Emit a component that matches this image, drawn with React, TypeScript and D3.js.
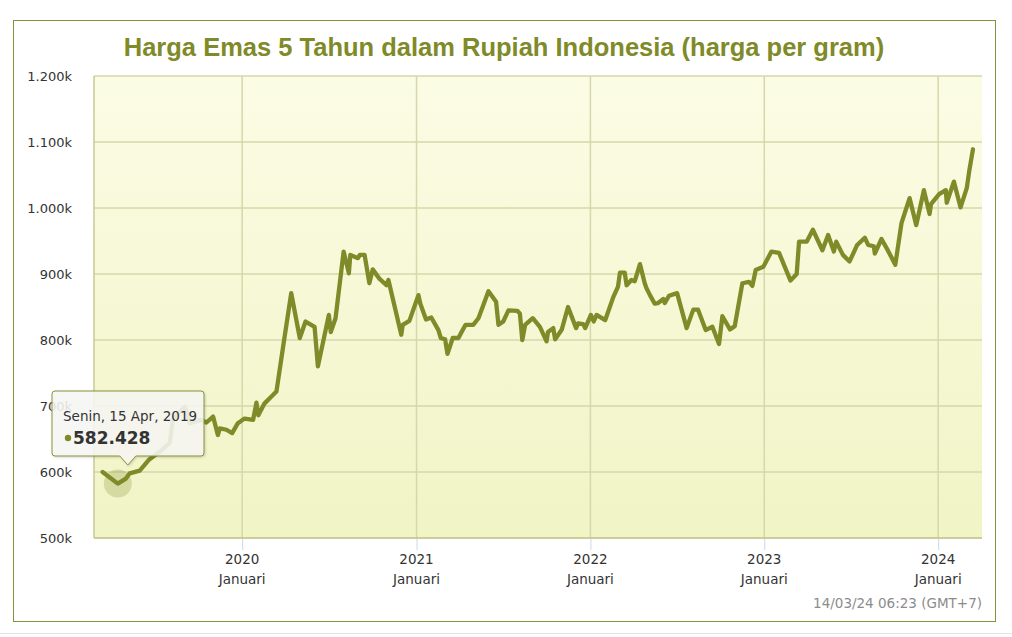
import * as d3 from 'd3'
import React, { useEffect, useRef } from 'react'

// gold price, thousand rupiah per gram
const dates = [
  '2019-03-14', '2019-04-15', '2019-05-02', '2019-05-10', '2019-05-31', '2019-06-20', '2019-07-16', '2019-08-02',
  '2019-08-09', '2019-09-03', '2019-09-13', '2019-10-07', '2019-10-18', '2019-11-01', '2019-11-11', '2019-11-15',
  '2019-11-29', '2019-12-11', '2019-12-23', '2020-01-06', '2020-01-24', '2020-01-31', '2020-02-04', '2020-02-17',
  '2020-03-02', '2020-03-13', '2020-03-27', '2020-04-13', '2020-05-01', '2020-05-13', '2020-06-01', '2020-06-08',
  '2020-07-01', '2020-07-05', '2020-07-15', '2020-08-01', '2020-08-12', '2020-08-15', '2020-08-31', '2020-09-04',
  '2020-09-14', '2020-09-24', '2020-10-01', '2020-10-15', '2020-10-30', '2020-11-03', '2020-11-30', '2020-12-03',
  '2020-12-17', '2021-01-05', '2021-01-09', '2021-01-21', '2021-02-01', '2021-02-16', '2021-02-21', '2021-03-02',
  '2021-03-07', '2021-03-18', '2021-03-30', '2021-04-04', '2021-04-14', '2021-04-30', '2021-05-11', '2021-06-01',
  '2021-06-17', '2021-06-22', '2021-07-02', '2021-07-13', '2021-08-01', '2021-08-06', '2021-08-11', '2021-08-17',
  '2021-09-02', '2021-09-17', '2021-10-01', '2021-10-04', '2021-10-15', '2021-10-19', '2021-11-02', '2021-11-15',
  '2021-12-02', '2021-12-06', '2021-12-17', '2021-12-21', '2022-01-02', '2022-01-08', '2022-01-14', '2022-02-01',
  '2022-02-18', '2022-02-28', '2022-03-04', '2022-03-14', '2022-03-18', '2022-03-28', '2022-04-04', '2022-04-15',
  '2022-04-25', '2022-04-29', '2022-05-06', '2022-05-16', '2022-05-23', '2022-06-03', '2022-06-06', '2022-06-15',
  '2022-07-02', '2022-07-22', '2022-08-05', '2022-08-15', '2022-08-31', '2022-09-14', '2022-09-28', '2022-10-05',
  '2022-10-21', '2022-10-31', '2022-11-16', '2022-11-30', '2022-12-07', '2022-12-14', '2022-12-30', '2023-01-16',
  '2023-02-01', '2023-02-25', '2023-03-10', '2023-03-15', '2023-03-31', '2023-04-13', '2023-05-03', '2023-05-15',
  '2023-05-27', '2023-06-01', '2023-06-15', '2023-06-29', '2023-07-15', '2023-07-31', '2023-08-07', '2023-08-19',
  '2023-08-21', '2023-09-04', '2023-09-18', '2023-10-03', '2023-10-16', '2023-11-02', '2023-11-16', '2023-12-02',
  '2023-12-14', '2023-12-17', '2024-01-03', '2024-01-17', '2024-01-19', '2024-02-03', '2024-02-17', '2024-03-01',
  '2024-03-06', '2024-03-14',
]
const prices = [
  600, 582.4, 590, 598, 602, 619, 633, 644,
  681, 699, 674, 679, 675, 684, 656, 666,
  664, 659, 674, 681, 679, 705, 686, 704,
  714, 722, 790, 871, 803, 828, 820, 760,
  838, 812, 833, 934, 901, 929, 924, 929,
  929, 886, 907, 893, 883, 891, 808, 823,
  829, 868, 855, 831, 834, 815, 803, 801,
  779, 803, 803, 810, 823, 823, 833, 874,
  858, 823, 828, 845, 844, 840, 800, 823,
  833, 820, 798, 812, 818, 801, 816, 850,
  818, 825, 824, 818, 838, 828, 838, 830,
  865, 881, 902, 902, 883, 891, 889, 915,
  886, 878, 868, 855, 856, 862, 856, 867,
  871, 818, 846, 846, 815, 820, 794, 836,
  816, 821, 886, 888, 882, 906, 911, 934,
  932, 890, 900, 949, 949, 967, 936, 959,
  934, 949, 929, 919, 944, 955, 944, 942,
  931, 953, 935, 914, 977, 1015, 974, 1027,
  991, 1006, 1021, 1027, 1008, 1040, 1001, 1030,
  1055, 1089,
]
const yTicks = [500, 600, 700, 800, 900, 1000, 1100, 1200]
const xTicks = ['2020-01-01', '2021-01-01', '2022-01-01', '2023-01-01', '2024-01-01']
const monthLabel = 'Januari'
const title = 'Harga Emas 5 Tahun dalam Rupiah Indonesia (harga per gram)'
const stamp = '14/03/24 06:23 (GMT+7)'
const tipDate = '2019-04-15'
const tipValue = 582.428
const tipLabel = 'Senin, 15 Apr, 2019'

const W = 1012
const H = 637
const olive = '#7f8a28'
const font = '"DejaVu Sans", Verdana, sans-serif'

const App: React.FC = () => {
  const ref = useRef<SVGSVGElement>(null)

  useEffect(() => {
    if (!ref.current) return
    const svg = d3.select(ref.current)
    svg.selectAll('*').remove()

    const plot = { left: 94, top: 76, right: 982, bottom: 538 }
    const parse = d3.timeParse('%Y-%m-%d')
    const x = d3.scaleTime()
      .domain([new Date(2019, 1, 24), new Date(2024, 3, 2)])
      .range([plot.left, plot.right])
    const y = d3.scaleLinear().domain([500, 1200]).range([plot.bottom, plot.top])
    const loc = d3.formatLocale({ decimal: ',', thousands: '.', grouping: [3], currency: ['Rp', ''] })
    const fmt = loc.format(',')

    const defs = svg.append('defs')
    const grad = defs.append('linearGradient').attr('id', 'bg').attr('x1', 0).attr('y1', 0).attr('x2', 0).attr('y2', 1)
    grad.append('stop').attr('offset', '0%').attr('stop-color', '#fbfce5')
    grad.append('stop').attr('offset', '100%').attr('stop-color', '#f1f4c5')
    const sh = defs.append('filter').attr('id', 'shadow').attr('x', '-20%').attr('y', '-20%').attr('width', '140%').attr('height', '150%')
    sh.append('feDropShadow').attr('dx', 1).attr('dy', 1).attr('stdDeviation', 1.2).attr('flood-color', '#000').attr('flood-opacity', 0.18)

    svg.append('rect').attr('width', W).attr('height', H).attr('fill', '#fff')
    svg.append('line').attr('x1', 0).attr('x2', W).attr('y1', 633.5).attr('y2', 633.5).attr('stroke', '#e4e4e4')
    svg.append('rect').attr('x', 13.5).attr('y', 20.5).attr('width', 982).attr('height', 601)
      .attr('fill', '#fff').attr('stroke', '#8a8f3c')

    svg.append('text').attr('x', 504).attr('y', 56).attr('text-anchor', 'middle')
      .attr('font-family', 'Liberation Sans, Arial, sans-serif').attr('font-weight', 'bold')
      .attr('font-size', 25.5).attr('fill', olive).text(title)

    svg.append('rect').attr('x', plot.left).attr('y', plot.top)
      .attr('width', plot.right - plot.left).attr('height', plot.bottom - plot.top).attr('fill', 'url(#bg)')

    const grid = svg.append('g').attr('stroke', '#d6d7aa').attr('stroke-width', 1.5)
    grid.selectAll('line.h').data(yTicks.slice(1)).enter().append('line')
      .attr('x1', plot.left).attr('x2', plot.right).attr('y1', d => y(d)).attr('y2', d => y(d))
    grid.selectAll('line.v').data(xTicks).enter().append('line')
      .attr('x1', d => x(parse(d)!)).attr('x2', d => x(parse(d)!)).attr('y1', plot.top).attr('y2', plot.bottom)
    svg.append('line').attr('x1', plot.left).attr('x2', plot.left).attr('y1', plot.top).attr('y2', plot.bottom)
      .attr('stroke', '#c9ca95').attr('stroke-width', 1.5)
    svg.append('line').attr('x1', plot.left).attr('x2', plot.right).attr('y1', plot.bottom).attr('y2', plot.bottom)
      .attr('stroke', '#bdbf82').attr('stroke-width', 1.5)

    svg.append('g').attr('stroke', '#ccd6eb')
      .selectAll('line').data(xTicks).enter().append('line')
      .attr('x1', d => x(parse(d)!) + 0.5).attr('x2', d => x(parse(d)!) + 0.5)
      .attr('y1', plot.bottom + 1).attr('y2', plot.bottom + 12)

    const yl = svg.append('g').attr('font-family', font).attr('font-size', 13).attr('fill', '#333').attr('text-anchor', 'end')
    yl.selectAll('text').data(yTicks).enter().append('text')
      .attr('x', 72).attr('y', d => y(d) + 5).text(d => `${fmt(d)}k`)

    const xl = svg.append('g').attr('font-family', font).attr('font-size', 13.5).attr('fill', '#333').attr('text-anchor', 'middle')
    xl.selectAll('text.yr').data(xTicks).enter().append('text')
      .attr('x', d => x(parse(d)!)).attr('y', 564).text(d => d.slice(0, 4))
    xl.selectAll('text.mo').data(xTicks).enter().append('text')
      .attr('x', d => x(parse(d)!)).attr('y', 584).text(monthLabel)

    svg.append('text').attr('x', 982).attr('y', 608).attr('text-anchor', 'end')
      .attr('font-family', font).attr('font-size', 13.5).attr('fill', '#8c8c8c').text(stamp)

    const pts = dates.map((d, i) => ({ date: parse(d)!, v: prices[i] }))
    const line = d3.line<{ date: Date; v: number }>().x(d => x(d.date)).y(d => y(d.v))

    const tx = x(parse(tipDate)!)
    const ty = y(tipValue)
    svg.append('circle').attr('cx', tx).attr('cy', ty).attr('r', 14).attr('fill', olive).attr('opacity', 0.25)

    svg.append('path').datum(pts).attr('d', line).attr('fill', 'none')
      .attr('stroke', olive).attr('stroke-width', 4.3).attr('stroke-linejoin', 'round').attr('stroke-linecap', 'round')

    // tooltip
    const bx = 52, by = 391, bw = 152, bh = 65, px = tx + 10
    const tip = svg.append('g')
    tip.append('path')
      .attr('d', `M${bx + 3},${by} H${bx + bw - 3} Q${bx + bw},${by} ${bx + bw},${by + 3} V${by + bh - 3} Q${bx + bw},${by + bh} ${bx + bw - 3},${by + bh} H${px + 8} L${px},${by + bh + 9} L${px - 8},${by + bh} H${bx + 3} Q${bx},${by + bh} ${bx},${by + bh - 3} V${by + 3} Q${bx},${by} ${bx + 3},${by} Z`)
      .attr('fill', 'rgba(248,248,246,0.86)').attr('stroke', '#8a9038').attr('filter', 'url(#shadow)')
    tip.append('text').attr('x', 63).attr('y', 421).attr('font-family', font).attr('font-size', 13.5)
      .attr('fill', '#333').text(tipLabel)
    tip.append('circle').attr('cx', 68).attr('cy', 438).attr('r', 3.2).attr('fill', olive)
    tip.append('text').attr('x', 73).attr('y', 444).attr('font-family', font).attr('font-size', 17)
      .attr('font-weight', 'bold').attr('fill', '#333').text(fmt(tipValue * 1000))
  }, [])

  return <svg ref={ref} width={W} height={H} style={{ position: 'absolute', left: 0, top: 0 }} />
}

export default App
